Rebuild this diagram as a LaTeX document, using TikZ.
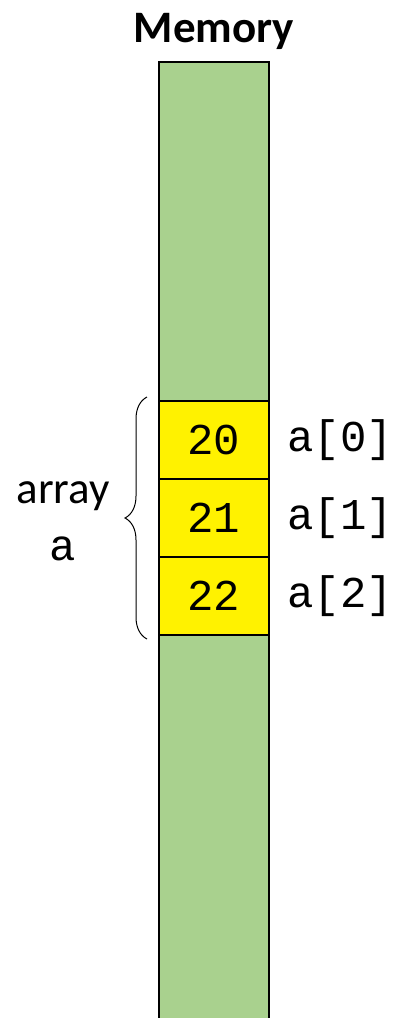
\documentclass[tikz,border=0pt]{standalone}
\usepackage{fontspec}
\setmainfont{Carlito}
\newfontfamily\codefont{Liberation Mono}
\usepackage{tikz}
\usetikzlibrary{positioning,decorations.pathreplacing}
\definecolor{memgreen}{HTML}{A9D18E}

\begin{document}
\begin{tikzpicture}[
    x=1pt, y=-1pt,
    cell/.style={rectangle, draw, line width=2pt, fill=yellow, minimum width=110pt, minimum height=78pt, inner sep=0pt, outer sep=0pt, font=\codefont\fontsize{44}{44}\selectfont},
    idx/.style={inner sep=0pt, font=\codefont\fontsize{44}{44}\selectfont},
    word/.style={inner sep=0pt, font=\fontsize{45}{45}\selectfont}
]
\useasboundingbox (0,0) rectangle (403,1018);

% memory column, open at the bottom
\fill[memgreen] (159,62) rectangle (269,1018);
\draw[line width=2.5pt] (159,1018) -- (159,62) -- (269,62) -- (269,1018);
\node[word, font=\bfseries\fontsize{45}{45}\selectfont, anchor=base] (title) at (214,42) {Memory};

% array cells
\node[cell] (c0) at (214,440) {20};
\node[cell, below=0pt of c0] (c1) {21};
\node[cell, below=0pt of c1] (c2) {22};

\node[idx, anchor=west, right=18pt of c0] (a0) {a[0]};
\node[idx, anchor=west, right=18pt of c1] (a1) {a[1]};
\node[idx, anchor=west, right=18pt of c2] (a2) {a[2]};

% brace
\coordinate (btop) at ([xshift=-12pt, yshift=4pt]c0.north west);
\coordinate (bbot) at ([xshift=-12pt, yshift=-4pt]c2.south west);
\draw[line width=1pt, decorate, decoration={brace, amplitude=22pt}] (bbot) -- (btop);

\node[word, anchor=base] (arr) at (63,503) {array};
\node[idx, anchor=base] (arrname) at (63,560) {a};

\end{tikzpicture}
\end{document}
